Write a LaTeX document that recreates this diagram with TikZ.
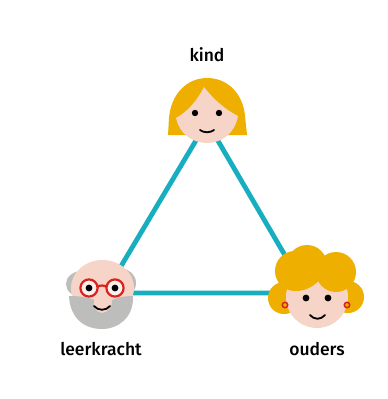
\documentclass[tikz,border=0pt]{standalone}
\usepackage{fontspec}
\setmainfont{Fira Sans Medium}
\definecolor{teal1}{HTML}{17AEBF}
\definecolor{hair}{HTML}{EFAF00}
\definecolor{skin}{HTML}{F6D5C8}
\definecolor{beard}{HTML}{BDBDBB}
\definecolor{glass}{HTML}{D8231F}
\tikzset{
  link/.style={draw=teal1,line width=4.8pt},
  lbl/.style={font=\fontsize{17.5}{20}\selectfont,text=black,inner sep=0pt,anchor=base},
  eyedot/.style={fill=black},
  smile/.style={draw=black,line width=1.8pt,line cap=round},
  frecks/.style={fill=skin!85!hair}
}
\begin{document}
\begin{tikzpicture}[x=1pt,y=-1pt]
\useasboundingbox[fill=white] (0,0) rectangle (388,399);
\coordinate (kid) at (207,122);
\coordinate (teacher) at (105,293);
\coordinate (parent) at (307,293);
\draw[link] (kid) -- (teacher) -- (parent) -- cycle;
% kind
\fill[hair] (168,135) -- (169,118) .. controls (171,94) and (187,78) .. (207,78) .. controls (228,78) and (243,94) .. (245,116) -- (247,135) -- cycle;
\fill[skin] (204,87) .. controls (197,101) and (187,112) .. (176,118) .. controls (179,133) and (192,143) .. (207,143) .. controls (222,143) and (235,133) .. (238,116) .. controls (226,110) and (214,100) .. (204,87) -- cycle;
\fill[eyedot] (195,113) circle (3.2);
\fill[eyedot] (219,113) circle (3.2);
\draw[smile] (200,130) .. controls (204,133) and (210,133) .. (214,130);
\foreach \p in {(186,122),(190,125),(224,122),(228,125)} \fill[frecks] \p circle (0.8);
% leerkracht
\fill[beard] (82,284) ellipse (16 and 13);
\fill[beard] (122,283) ellipse (14 and 14);
\fill[skin] (102.5,288) ellipse (31.5 and 28);
\fill[beard] (69,296) .. controls (78,296) and (88,297) .. (94,300) .. controls (92,306) and (96,313) .. (102,313) .. controls (108,313) and (113,306) .. (112,300) .. controls (118,297) and (126,296) .. (133,296) -- (133,298) .. controls (133,318) and (118,329) .. (102,329) .. controls (84,329) and (70,318) .. (69,296) -- cycle;
\draw[glass,line width=2.2pt] (97,287) .. controls (100,285) and (104,285) .. (107,287);
\draw[glass,line width=2.2pt,fill=skin!35!white] (89,288) circle (8.6);
\draw[glass,line width=2.2pt,fill=skin!35!white] (115,288) circle (8.6);
\fill[eyedot] (89,288) circle (3.4);
\fill[eyedot] (115,288) circle (3.4);
\draw[smile] (94,306) .. controls (98,311) and (106,311) .. (110,306);
% ouders
\fill[hair] (284,298) circle (16);
\fill[hair] (348,297) circle (16);
\fill[skin] (317,297) circle (31);
\fill[hair] (307,265) circle (20);
\fill[hair] (295,271) circle (20);
\fill[hair] (336,272) circle (20);
\fill[hair] (296,272) -- (296,291) .. controls (306,291) and (315,286) .. (322,277) -- (335,272) -- (320,255) -- cycle;
\fill[hair] (322,277) .. controls (326,285) and (332,291) .. (338,292) -- (338,272) -- (322,270) -- cycle;
\draw[glass,line width=1.5pt,fill=hair] (285,305) circle (2.7);
\draw[glass,line width=1.5pt,fill=hair] (347,305) circle (2.7);
\fill[eyedot] (306,298) circle (3.4);
\fill[eyedot] (328,298) circle (3.4);
\draw[smile] (310,315) .. controls (314,320) and (321,320) .. (325,315);
% labels
\node[lbl] (lkind) at (207,61) {kind};
\node[lbl] (lteacher) at (101,355) {leerkracht};
\node[lbl] (lparent) at (317,355) {ouders};
\end{tikzpicture}
\end{document}
